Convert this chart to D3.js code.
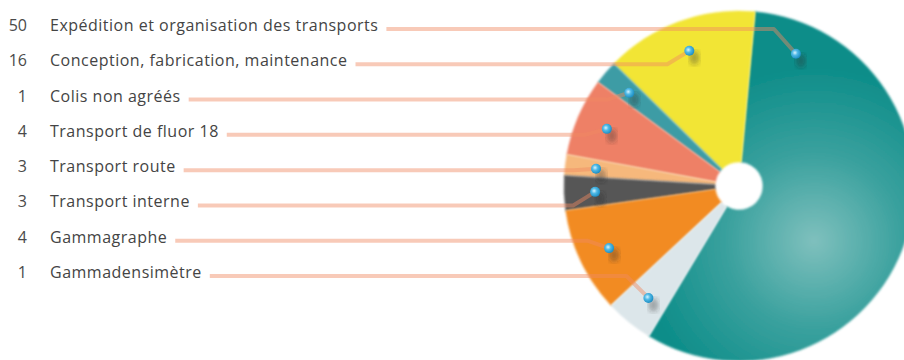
<!DOCTYPE html>
<html>
<head>
<meta charset="utf-8">
<script src="https://cdn.jsdelivr.net/npm/d3@7"></script>
<style>
  body { margin: 0; background: #fff; }
  .etiquette { font-family: "Open Sans", sans-serif; font-size: 16px; letter-spacing: 0.5px; fill: #444; }
  .nombre { font-family: "Open Sans", sans-serif; font-size: 16px; fill: #4a4a4a; }
</style>
</head>
<body>
<div id="okvir"></div>
<script>
// 1. Donnees

const categories = [
  "Expédition et organisation des transports",
  "Conception, fabrication, maintenance",
  "Colis non agréés",
  "Transport de fluor 18",
  "Transport route",
  "Transport interne",
  "Gammagraphe",
  "Gammadensimètre",
]
const valeurs = [50, 16, 1, 4, 3, 3, 4, 1]
// part de chaque secteur telle que dessinee sur l'image (degres), pas proportionnelle
const partsDessinees = [206, 51, 8, 26, 7, 11.5, 35, 16]
const couleurs = ["#108f8b", "#f2e535", "#3e9ca5", "#ee8066", "#f6b87c", "#565656", "#f28b20", "#dce6ea"]

const donnees = categories.map((c, i) => ({ nom: c, valeur: valeurs[i], part: partsDessinees[i], couleur: couleurs[i] }))

async function dessiner() {

  // 2. Dimensions

  const dim = {
    largeur: 904,
    hauteur: 360,
    cx: 739,
    cy: 186,
    rayon: 175,
    trou: 24,
  }

  const svg = d3.select("#okvir")
    .append("svg")
      .attr("width", dim.largeur)
      .attr("height", dim.hauteur)

  const defs = svg.append("defs")

  // coordonnees relatives au centre du camembert
  const gradTeal = defs.append("radialGradient")
      .attr("id", "grad-teal")
      .attr("gradientUnits", "userSpaceOnUse")
      .attr("cx", 75)
      .attr("cy", 55)
      .attr("r", dim.rayon)
  gradTeal.append("stop").attr("offset", 0).attr("stop-color", "#7fc0bd")
  gradTeal.append("stop").attr("offset", 0.5).attr("stop-color", "#3aa19e")
  gradTeal.append("stop").attr("offset", 1).attr("stop-color", "#0d8d89")

  const gradBille = defs.append("radialGradient")
      .attr("id", "grad-bille")
      .attr("cx", "40%").attr("cy", "40%").attr("r", "60%")
  gradBille.append("stop").attr("offset", 0).attr("stop-color", "#d8f4ff")
  gradBille.append("stop").attr("offset", 0.45).attr("stop-color", "#4fb9e6")
  gradBille.append("stop").attr("offset", 1).attr("stop-color", "#1e8fc4")

  defs.append("filter").attr("id", "flou")
    .append("feGaussianBlur").attr("stdDeviation", 2.5)

  defs.append("filter").attr("id", "flou-bord")
    .append("feGaussianBlur").attr("stdDeviation", 1)

  // 3. Echelles

  const yLigne = d3.scalePoint()
    .domain(categories)
    .range([31, 278])

  const debut = 211 * Math.PI / 180
  const secteurs = d3.pie()
    .sort(null)
    .value(d => d.part)
    .startAngle(debut)
    .endAngle(debut - 2 * Math.PI)(donnees)

  const arc = d3.arc()
    .innerRadius(dim.trou)
    .outerRadius(dim.rayon)

  // 4. Camembert

  const camembert = svg.append("g")
      .attr("transform", `translate(${dim.cx},${dim.cy})`)

  camembert.selectAll("path")
    .data(secteurs)
    .join("path")
      .attr("d", arc)
      .attr("fill", (d, i) => i === 0 ? "url(#grad-teal)" : d.data.couleur)
      .attr("stroke", (d, i) => i === 0 ? "#2a9a96" : d.data.couleur)
      .attr("stroke-width", 0.5)
      .attr("filter", "url(#flou-bord)")

  // 5. Etiquettes

  const lignes = svg.append("g")

  lignes.selectAll(".nombre")
    .data(donnees)
    .join("text")
      .attr("class", "nombre")
      .attr("x", 27)
      .attr("y", d => yLigne(d.nom))
      .attr("text-anchor", "end")
      .text(d => d.valeur)

  const textes = lignes.selectAll(".etiquette")
    .data(donnees)
    .join("text")
      .attr("class", "etiquette")
      .attr("x", 50)
      .attr("y", d => yLigne(d.nom))
      .text(d => d.nom)

  // 6. Lignes de rappel et billes

  const rayonBille = 144
  const positionBille = (s, i) => {
    let a = (s.startAngle + s.endAngle) / 2
    if (i === 0) a = s.endAngle + 18 * Math.PI / 180
    return [dim.cx + rayonBille * Math.sin(a), dim.cy - rayonBille * Math.cos(a)]
  }

  const generateurLigne = d3.line()

  secteurs.forEach((s, i) => {
    const y = yLigne(s.data.nom) - 2
    const fin = textes.nodes()[i].getComputedTextLength() + 50
    const [bx, by] = positionBille(s, i)
    lignes.append("path")
        .attr("d", generateurLigne([[fin + 8, y], [bx - 22, y], [bx, by]]))
        .attr("fill", "none")
        .attr("stroke", "#f08a62")
        .attr("stroke-opacity", 0.45)
        .attr("stroke-width", 4)
        .attr("stroke-linejoin", "round")
  })

  const billes = svg.append("g")
  secteurs.forEach((s, i) => {
    const [bx, by] = positionBille(s, i)
    billes.append("ellipse")
        .attr("cx", bx + 5)
        .attr("cy", by + 7)
        .attr("rx", 5)
        .attr("ry", 7)
        .attr("fill", "rgba(40,40,40,0.35)")
        .attr("filter", "url(#flou)")
    billes.append("circle")
        .attr("cx", bx)
        .attr("cy", by)
        .attr("r", 5)
        .attr("fill", "url(#grad-bille)")
  })
}
dessiner()
</script>
</body>
</html>
